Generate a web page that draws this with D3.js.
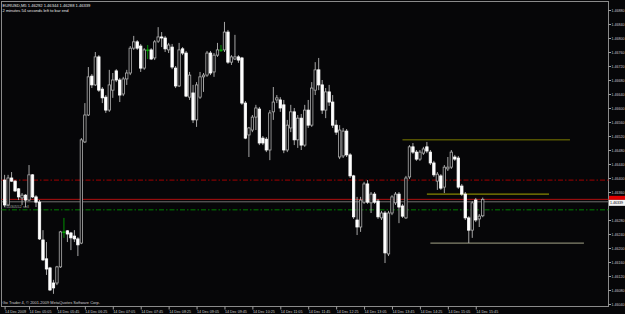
<!DOCTYPE html>
<html>
<head>
<meta charset="utf-8">
<script src="https://cdn.jsdelivr.net/npm/d3@7"></script>
<style>
    body { margin: 0; background: #000; }
    svg { display: block; font-family: "Liberation Sans", Arial, sans-serif; }
</style>
</head>
<body>
<div id="wrapper"></div>
<script>

// EURUSD M5, 14 Dec 2009, 04:30 .. 15:55 (one value per bar)
const open = [
    1.46394, 1.46323, 1.46400, 1.46391, 1.46369, 1.46343, 1.46351, 1.46337, 1.46409, 1.46346,
    1.46331, 1.46223, 1.46169, 1.46143, 1.46100, 1.46100, 1.46146, 1.46246, 1.46249, 1.46243,
    1.46234, 1.46226, 1.46214, 1.46503, 1.46580, 1.46691, 1.46666, 1.46746, 1.46654, 1.46631,
    1.46594, 1.46651, 1.46706, 1.46680, 1.46640, 1.46683, 1.46700, 1.46771, 1.46789, 1.46777,
    1.46714, 1.46766, 1.46766, 1.46743, 1.46791, 1.46803, 1.46800, 1.46766, 1.46774, 1.46714,
    1.46663, 1.46769, 1.46757, 1.46631, 1.46643, 1.46566, 1.46631, 1.46689, 1.46694, 1.46757,
    1.46703, 1.46751, 1.46766, 1.46766, 1.46817, 1.46731, 1.46740, 1.46746, 1.46743, 1.46614,
    1.46523, 1.46537, 1.46574, 1.46597, 1.46514, 1.46511, 1.46480, 1.46589, 1.46623, 1.46623,
    1.46609, 1.46480, 1.46543, 1.46589, 1.46509, 1.46571, 1.46494, 1.46594, 1.46551, 1.46651,
    1.46709, 1.46666, 1.46594, 1.46646, 1.46617, 1.46551, 1.46460, 1.46463, 1.46534, 1.46466,
    1.46406, 1.46280, 1.46260, 1.46331, 1.46383, 1.46329, 1.46354, 1.46334, 1.46286, 1.46300,
    1.46183, 1.46300, 1.46329, 1.46354, 1.46320, 1.46286, 1.46403, 1.46489, 1.46474, 1.46454,
    1.46471, 1.46489, 1.46474, 1.46443, 1.46391, 1.46406, 1.46374, 1.46426, 1.46431, 1.46460,
    1.46457, 1.46377, 1.46354, 1.46286, 1.46251, 1.46337, 1.46283, 1.46292
]
const high = [
    1.46409, 1.46409, 1.46417, 1.46394, 1.46371, 1.46357, 1.46354, 1.46437, 1.46411, 1.46351,
    1.46337, 1.46251, 1.46217, 1.46146, 1.46109, 1.46149, 1.46249, 1.46286, 1.46251, 1.46246,
    1.46251, 1.46231, 1.46514, 1.46614, 1.46717, 1.46697, 1.46760, 1.46751, 1.46660, 1.46637,
    1.46709, 1.46700, 1.46711, 1.46686, 1.46689, 1.46709, 1.46777, 1.46806, 1.46794, 1.46783,
    1.46771, 1.46780, 1.46771, 1.46794, 1.46831, 1.46817, 1.46806, 1.46786, 1.46783, 1.46720,
    1.46786, 1.46774, 1.46763, 1.46703, 1.46666, 1.46674, 1.46703, 1.46700, 1.46763, 1.46763,
    1.46757, 1.46786, 1.46780, 1.46846, 1.46823, 1.46751, 1.46809, 1.46751, 1.46746, 1.46620,
    1.46546, 1.46580, 1.46609, 1.46603, 1.46520, 1.46517, 1.46594, 1.46660, 1.46637, 1.46631,
    1.46623, 1.46566, 1.46609, 1.46600, 1.46580, 1.46583, 1.46609, 1.46623, 1.46674, 1.46731,
    1.46743, 1.46680, 1.46657, 1.46666, 1.46637, 1.46566, 1.46551, 1.46543, 1.46540, 1.46471,
    1.46409, 1.46346, 1.46346, 1.46389, 1.46394, 1.46360, 1.46360, 1.46340, 1.46306, 1.46306,
    1.46306, 1.46351, 1.46360, 1.46360, 1.46326, 1.46406, 1.46494, 1.46500, 1.46480, 1.46480,
    1.46489, 1.46503, 1.46480, 1.46449, 1.46417, 1.46411, 1.46437, 1.46460, 1.46480, 1.46466,
    1.46463, 1.46383, 1.46360, 1.46291, 1.46334, 1.46343, 1.46297, 1.46344
]
const low = [
    1.46317, 1.46320, 1.46389, 1.46360, 1.46337, 1.46323, 1.46317, 1.46334, 1.46343, 1.46317,
    1.46223, 1.46163, 1.46123, 1.46077, 1.46069, 1.46094, 1.46143, 1.46229, 1.46217, 1.46194,
    1.46217, 1.46177, 1.46211, 1.46500, 1.46577, 1.46657, 1.46663, 1.46646, 1.46614, 1.46586,
    1.46589, 1.46629, 1.46674, 1.46617, 1.46634, 1.46666, 1.46694, 1.46766, 1.46766, 1.46703,
    1.46709, 1.46740, 1.46737, 1.46737, 1.46786, 1.46774, 1.46760, 1.46757, 1.46711, 1.46657,
    1.46660, 1.46751, 1.46631, 1.46623, 1.46557, 1.46546, 1.46626, 1.46646, 1.46689, 1.46694,
    1.46689, 1.46746, 1.46760, 1.46760, 1.46726, 1.46723, 1.46737, 1.46729, 1.46609, 1.46511,
    1.46460, 1.46531, 1.46537, 1.46494, 1.46494, 1.46474, 1.46451, 1.46566, 1.46614, 1.46589,
    1.46471, 1.46474, 1.46531, 1.46494, 1.46486, 1.46480, 1.46489, 1.46543, 1.46546, 1.46637,
    1.46651, 1.46583, 1.46571, 1.46606, 1.46543, 1.46523, 1.46454, 1.46457, 1.46460, 1.46400,
    1.46283, 1.46237, 1.46246, 1.46326, 1.46326, 1.46300, 1.46326, 1.46283, 1.46280, 1.46157,
    1.46177, 1.46294, 1.46323, 1.46271, 1.46286, 1.46283, 1.46397, 1.46469, 1.46449, 1.46449,
    1.46466, 1.46471, 1.46437, 1.46403, 1.46366, 1.46366, 1.46357, 1.46420, 1.46426, 1.46449,
    1.46369, 1.46349, 1.46280, 1.46214, 1.46229, 1.46274, 1.46260, 1.46288
]
const close = [
    1.46323, 1.46400, 1.46391, 1.46363, 1.46346, 1.46351, 1.46337, 1.46409, 1.46346, 1.46331,
    1.46226, 1.46166, 1.46140, 1.46080, 1.46086, 1.46146, 1.46246, 1.46246, 1.46240, 1.46229,
    1.46226, 1.46209, 1.46509, 1.46580, 1.46689, 1.46666, 1.46746, 1.46651, 1.46629, 1.46594,
    1.46666, 1.46680, 1.46680, 1.46637, 1.46683, 1.46700, 1.46771, 1.46789, 1.46771, 1.46714,
    1.46766, 1.46766, 1.46740, 1.46789, 1.46803, 1.46800, 1.46769, 1.46780, 1.46717, 1.46663,
    1.46766, 1.46757, 1.46634, 1.46694, 1.46566, 1.46666, 1.46689, 1.46694, 1.46757, 1.46700,
    1.46751, 1.46766, 1.46766, 1.46817, 1.46731, 1.46746, 1.46746, 1.46737, 1.46614, 1.46514,
    1.46543, 1.46574, 1.46600, 1.46500, 1.46500, 1.46480, 1.46586, 1.46617, 1.46629, 1.46600,
    1.46480, 1.46551, 1.46589, 1.46509, 1.46571, 1.46494, 1.46594, 1.46551, 1.46657, 1.46709,
    1.46666, 1.46594, 1.46646, 1.46617, 1.46551, 1.46531, 1.46537, 1.46534, 1.46466, 1.46406,
    1.46289, 1.46260, 1.46337, 1.46383, 1.46331, 1.46354, 1.46331, 1.46289, 1.46300, 1.46186,
    1.46300, 1.46346, 1.46354, 1.46317, 1.46291, 1.46400, 1.46489, 1.46474, 1.46454, 1.46474,
    1.46483, 1.46477, 1.46443, 1.46409, 1.46411, 1.46371, 1.46431, 1.46431, 1.46474, 1.46454,
    1.46374, 1.46354, 1.46286, 1.46251, 1.46329, 1.46280, 1.46291, 1.46339
]

// price axis labels (1.46320 is hidden behind the price box)
const priceTicks = [
    "1.46880", "1.46840", "1.46800", "1.46760", "1.46720", "1.46680", "1.46640", "1.46600",
    "1.46560", "1.46520", "1.46480", "1.46440", "1.46400", "1.46360", "1.46280",
    "1.46240", "1.46200", "1.46160", "1.46120", "1.46080", "1.46040"
]

// time axis
const timeTicks = [
    "04:30", "05:05", "05:45", "06:25", "07:05", "07:45", "08:25", "09:05", "09:45",
    "10:25", "11:05", "11:45", "12:25", "13:05", "13:45", "14:25", "15:05", "15:45"
]
const timeLabels = [
    "14 Dec 2009", "14 Dec 05:05", "14 Dec 05:45", "14 Dec 06:25", "14 Dec 07:05",
    "14 Dec 07:45", "14 Dec 08:25", "14 Dec 09:05", "14 Dec 09:45", "14 Dec 10:25",
    "14 Dec 11:05", "14 Dec 11:45", "14 Dec 12:25", "14 Dec 13:05", "14 Dec 13:45",
    "14 Dec 14:25", "14 Dec 15:05", "14 Dec 15:45"
]

// order levels
const bidPrice = 1.46339
const orderPrice = 1.46332
const stopLoss = 1.46394
const takeProfit = 1.46309

// drawn horizontal segments
const segmentPrices = [1.46509, 1.46354, 1.46214]
const segmentStart = ["14:00", "14:35", "14:40"]
const segmentEnd = ["18:00", "17:30", "18:20"]

// 1. Set up

const parseTime = s => d3.timeParse("%Y-%m-%d %H:%M")("2009-12-14 " + s)
const barTimes = d3.timeMinute.every(5).range(parseTime("04:30"), parseTime("16:00"))
const bars = barTimes.map((t, i) => ({
    time: t, open: open[i], high: high[i], low: low[i], close: close[i]
}))

let dimensions = {
    width: 625,
    height: 314,
    plotLeft: 1.5,
    plotTop: 1.5,
    plotRight: 608.5,
    plotBottom: 306.5,
}

const wrapper = d3.select("#wrapper")
    .append("svg")
    .attr("width", dimensions.width)
    .attr("height", dimensions.height)

wrapper.append("rect")
    .attr("width", dimensions.width)
    .attr("height", dimensions.height)
    .attr("fill", "#060608")

// 2. Scales

const yScale = d3.scaleLinear()
    .domain([1.46040, 1.46880])
    .range([304, 10])

const xScale = d3.scaleTime()
    .domain([barTimes[0], barTimes[barTimes.length - 1]])
    .range([4.6, 4.6 + 3.49 * (barTimes.length - 1)])

// 3. Frame

wrapper.append("rect")
    .attr("x", dimensions.plotLeft)
    .attr("y", dimensions.plotTop)
    .attr("width", dimensions.plotRight - dimensions.plotLeft)
    .attr("height", dimensions.plotBottom - dimensions.plotTop)
    .attr("fill", "none")
    .attr("stroke", "#8a8a8a")
    .attr("stroke-width", 1)

// 4. Level lines

const levels = wrapper.append("g")

levels.append("line")
    .attr("x1", dimensions.plotLeft).attr("x2", dimensions.plotRight)
    .attr("y1", yScale(stopLoss)).attr("y2", yScale(stopLoss))
    .attr("stroke", "#a00000").attr("stroke-width", 1)
    .attr("stroke-dasharray", "5,2,1.5,2")

levels.append("line")
    .attr("x1", dimensions.plotLeft).attr("x2", dimensions.plotRight)
    .attr("y1", yScale(takeProfit)).attr("y2", yScale(takeProfit))
    .attr("stroke", "#008000").attr("stroke-width", 1)
    .attr("stroke-dasharray", "5,2,1.5,2")

levels.append("line")
    .attr("x1", dimensions.plotLeft).attr("x2", dimensions.plotRight)
    .attr("y1", yScale(orderPrice)).attr("y2", yScale(orderPrice))
    .attr("stroke", "#707070").attr("stroke-width", 1)

levels.append("line")
    .attr("x1", dimensions.plotLeft).attr("x2", dimensions.plotRight)
    .attr("y1", yScale(bidPrice)).attr("y2", yScale(bidPrice))
    .attr("stroke", "#b01010").attr("stroke-width", 1)

levels.append("text")
    .attr("x", 4)
    .attr("y", yScale(orderPrice) + 6.5)
    .attr("fill", "#a0a0a0")
    .attr("font-size", 4)
    .text("#5030552 sell")

const segmentColors = ["#7c7c00", "#a8a800", "#a4a488"]
levels.selectAll(".segment")
    .data(segmentPrices)
    .join("line")
    .attr("class", "segment")
    .attr("x1", (d, i) => xScale(parseTime(segmentStart[i])))
    .attr("x2", (d, i) => xScale(parseTime(segmentEnd[i])))
    .attr("y1", d => yScale(d))
    .attr("y2", d => yScale(d))
    .attr("stroke", (d, i) => segmentColors[i])
    .attr("stroke-width", 1)

// 5. Candles

const bodyWidth = 2.4
const candles = wrapper.append("g")
    .selectAll("g")
    .data(bars)
    .join("g")

const isDoji = d => d.open === d.close
const isBull = d => d.close > d.open

candles.append("line")
    .attr("x1", d => xScale(d.time))
    .attr("x2", d => xScale(d.time))
    .attr("y1", d => yScale(d.high))
    .attr("y2", d => yScale(d.low))
    .attr("stroke", d => isDoji(d) ? "#00a000" : "#b8b8b8")
    .attr("stroke-width", 0.9)

candles.append("rect")
    .attr("x", d => xScale(d.time) - bodyWidth / 2)
    .attr("y", d => yScale(Math.max(d.open, d.close)))
    .attr("width", bodyWidth)
    .attr("height", d => Math.max(0.8, yScale(Math.min(d.open, d.close)) - yScale(Math.max(d.open, d.close))))
    .attr("fill", d => isDoji(d) ? "#00a000" : isBull(d) ? "#060608" : "#ffffff")
    .attr("stroke", d => isDoji(d) ? "#00a000" : isBull(d) ? "#b0b0b0" : "#ffffff")
    .attr("stroke-width", 0.8)

// 6. Axes

const yAxisGenerator = d3.axisRight(yScale)
    .tickValues(priceTicks.map(Number))
    .tickFormat((d, i) => priceTicks[i])
    .tickSize(2.5)
    .tickSizeOuter(0)
    .tickPadding(0.5)

const yAxis = wrapper.append("g")
    .attr("transform", `translate(${dimensions.plotRight}, 0)`)
    .call(yAxisGenerator)
yAxis.select(".domain").remove()
yAxis.selectAll("line").attr("stroke", "#a0a0a0")
yAxis.selectAll("text")
    .attr("fill", "#c8c8c8")
    .attr("font-size", 3.6)
    .attr("font-family", "Liberation Sans, Arial, sans-serif")

const xAxisGenerator = d3.axisBottom(xScale)
    .tickValues(timeTicks.map(parseTime))
    .tickFormat((d, i) => timeLabels[i])
    .tickSize(3)
    .tickSizeOuter(0)
    .tickPadding(0.5)

const xAxis = wrapper.append("g")
    .attr("transform", `translate(0, ${dimensions.plotBottom})`)
    .call(xAxisGenerator)
xAxis.select(".domain").remove()
xAxis.selectAll("line").attr("stroke", "#a0a0a0")
xAxis.selectAll("text")
    .attr("text-anchor", "start")
    .attr("fill", "#c8c8c8")
    .attr("font-size", 3.7)
    .attr("font-family", "Liberation Sans, Arial, sans-serif")

// current price box on the axis
const priceBox = wrapper.append("g")
priceBox.append("rect")
    .attr("x", dimensions.plotRight + 0.5)
    .attr("y", yScale(bidPrice) - 3.5)
    .attr("width", 16)
    .attr("height", 4)
    .attr("fill", "#e00000")
priceBox.append("rect")
    .attr("x", dimensions.plotRight + 0.5)
    .attr("y", yScale(bidPrice) + 0.5)
    .attr("width", 16)
    .attr("height", 6)
    .attr("fill", "#f4f4f4")
priceBox.append("text")
    .attr("x", dimensions.plotRight + 1.5)
    .attr("y", yScale(bidPrice) + 5)
    .attr("fill", "#000")
    .attr("font-size", 3.6)
    .text(d3.format(".5f")(bidPrice))

// 7. Texts

const header = wrapper.append("g").attr("fill", "#e8e8e8").attr("font-size", 4.1)
header.append("text")
    .attr("x", 2.5).attr("y", 6.5)
    .text(`EURUSD,M5  ${[open, high, low, close].map(a => d3.format(".5f")(a[a.length - 1])).join(" ")}`)
header.append("text")
    .attr("x", 2.5).attr("y", 12)
    .text("2 minutes 54 seconds left to bar end")

wrapper.append("text")
    .attr("x", 2.5).attr("y", 304)
    .attr("fill", "#d0d0d0")
    .attr("font-size", 4)
    .text("Go Trader 4, © 2001-2009 MetaQuotes Software Corp.")

</script>
</body>
</html>
